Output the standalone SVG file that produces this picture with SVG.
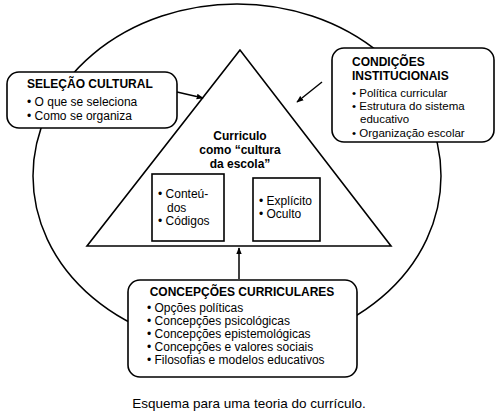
<svg xmlns="http://www.w3.org/2000/svg" width="499" height="417" viewBox="0 0 499 417">
<defs>
<style>
.ln{fill:none;stroke:#000;stroke-width:1.5}
.bx{fill:#fff;stroke:#000;stroke-width:1.6}
text{font-family:"Liberation Sans",Arial,sans-serif;font-size:12px;fill:#000}
.b{font-weight:bold}
.c{text-anchor:middle}
.s{font-size:11.5px}
</style>
<marker id="ah" viewBox="0 0 10 10" refX="9" refY="5" markerWidth="7" markerHeight="7" orient="auto" markerUnits="userSpaceOnUse">
<path d="M0,1 L10,5 L0,9 Z" fill="#000"/>
</marker>
</defs>
<rect width="499" height="417" fill="#fff"/>
<g id="outer"><ellipse cx="237" cy="176" rx="204" ry="172" class="ln"/></g>
<g id="curriculo">
<polygon points="240,50 87,246 391,246" class="bx"/>
<text class="b c" x="240" y="140">Curriculo</text>
<text class="b c" x="240" y="154">como “cultura</text>
<text class="b c" x="240" y="168">da escola”</text>
</g>
<g id="conteudos">
<rect x="152" y="174" width="72" height="67" class="bx"/>
<text x="158" y="198">• Conteú-</text>
<text x="167" y="212">dos</text>
<text x="158" y="225">• Códigos</text>
</g>
<g id="explicito">
<rect x="253" y="178" width="67" height="63" class="bx"/>
<text x="259" y="205">• Explícito</text>
<text x="259" y="218">• Oculto</text>
</g>
<g id="selecao">
<rect x="7" y="72" width="170" height="56" rx="12" class="bx"/>
<text class="b" x="27" y="88">SELEÇÃO CULTURAL</text>
<text x="27" y="106">• O que se seleciona</text>
<text x="27" y="120">• Como se organiza</text>
</g>
<g id="condicoes">
<rect x="332" y="48" width="162" height="94" rx="12" class="bx"/>
<text class="b" x="352" y="66">CONDIÇÕES</text>
<text class="b" x="352" y="80">INSTITUCIONAIS</text>
<text class="s" x="352" y="97">• Política curricular</text>
<text class="s" x="352" y="110">• Estrutura do sistema</text>
<text class="s" x="360" y="123">educativo</text>
<text class="s" x="352" y="136.5">• Organização escolar</text>
</g>
<g id="concepcoes">
<rect x="128" y="280" width="229" height="97" rx="12" class="bx"/>
<text class="b c" x="242" y="296">CONCEPÇÕES CURRICULARES</text>
<text x="147" y="312">• Opções políticas</text>
<text x="147" y="325">• Concepções psicológicas</text>
<text x="147" y="338">• Concepções epistemológicas</text>
<text x="147" y="351">• Concepções e valores sociais</text>
<text x="147" y="364">• Filosofias e modelos educativos</text>
</g>
<g id="connectors">
<line x1="177" y1="92" x2="203" y2="98" class="ln" marker-end="url(#ah)"/>
<line x1="322" y1="82" x2="297" y2="102" class="ln" marker-end="url(#ah)"/>
<line x1="239" y1="279" x2="239" y2="248" class="ln" marker-end="url(#ah)"/>
</g>
<text class="c" x="249" y="408" style="font-size:13.5px">Esquema para uma teoria do currículo.</text>
</svg>
